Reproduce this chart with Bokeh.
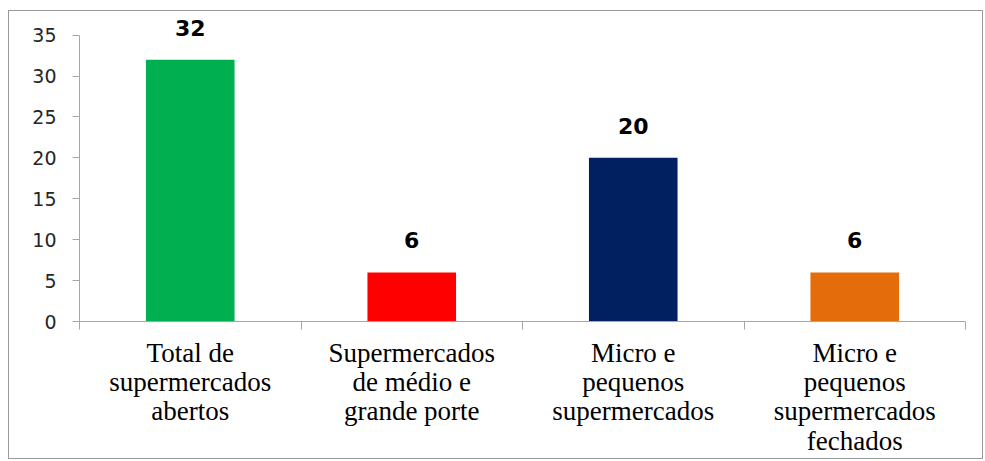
from bokeh.plotting import figure
from bokeh.models import Range1d, LinearAxis, FixedTicker, ColumnDataSource
from bokeh.core.properties import value
from bokeh.embed import file_html
from bokeh.resources import INLINE

# ---- data ----
categories = [
    "Total de\nsupermercados\nabertos",
    "Supermercados\nde médio e\ngrande porte",
    "Micro e\npequenos\nsupermercados",
    "Micro e\npequenos\nsupermercados\nfechados",
]
values = [32, 6, 20, 6]
colors = ["#00B050", "#FF0000", "#002060", "#E46C0A"]
value_labels = [str(v) for v in values]
y_ticks = [0, 5, 10, 15, 20, 25, 30, 35]

GRAY = "#a6a6a6"

n = len(categories)
centers = [i + 0.5 for i in range(n)]          # slot centres on a 0..n scale
edges = list(range(n + 1))                      # slot boundaries

src = ColumnDataSource(dict(x=centers, val=values, color=colors, lab=value_labels))

p = figure(
    width=975, height=449,
    x_range=Range1d(0, n),
    y_range=Range1d(0, 37.4),
    x_axis_location=None,
    output_backend="svg", toolbar_location=None,
    min_border_left=70, min_border_right=19, min_border_top=4, min_border_bottom=139,
)
p.styles = {"border": "1px solid #9a9a9a", "margin-left": "8px", "margin-top": "10px"}
p.outline_line_color = None
p.xgrid.grid_line_color = None
p.ygrid.grid_line_color = None
p.background_fill_color = "white"
p.border_fill_color = "white"

# y axis
ya = p.yaxis[0]
ya.ticker = FixedTicker(ticks=y_ticks)
ya.bounds = (0, 35)
ya.axis_line_color = GRAY
ya.major_tick_line_color = GRAY
ya.major_tick_out = 7
ya.major_tick_in = 0
ya.minor_tick_line_color = None
ya.major_label_text_font = "DejaVu Sans"
ya.major_label_text_font_size = "19px"
ya.major_label_text_color = "#262626"
ya.major_label_standoff = 16

# x axis: boundary ticks
edge_axis = LinearAxis(
    ticker=FixedTicker(ticks=edges),
    major_label_overrides={e: "" for e in edges},
    major_label_standoff=0,
    major_tick_out=8, major_tick_in=0,
    minor_tick_line_color=None,
    axis_line_color=GRAY, major_tick_line_color=GRAY,
)
p.add_layout(edge_axis, "below")

# x axis: category labels at slot centres
cat_axis = LinearAxis(
    ticker=FixedTicker(ticks=centers),
    major_label_overrides={c: lab for c, lab in zip(centers, categories)},
    axis_line_color=None, major_tick_line_color=None, minor_tick_line_color=None,
    major_label_text_font="Liberation Serif",
    major_label_text_font_size="27px",
    major_label_text_color="#000000",
    major_label_standoff=2,
    major_label_text_line_height=0.98,
)
p.add_layout(cat_axis, "below")

# bars
p.vbar(x="x", top="val", width=0.4, color="color", line_color=None, source=src)

# value labels
p.text(x="x", y="val", text="lab", source=src,
       text_font=value("DejaVu Sans"), text_font_style="bold",
       text_font_size="22px", text_color="#000000",
       text_align="center", text_baseline="middle", y_offset=-32)

open("out.html", "w").write(file_html(p, INLINE))
